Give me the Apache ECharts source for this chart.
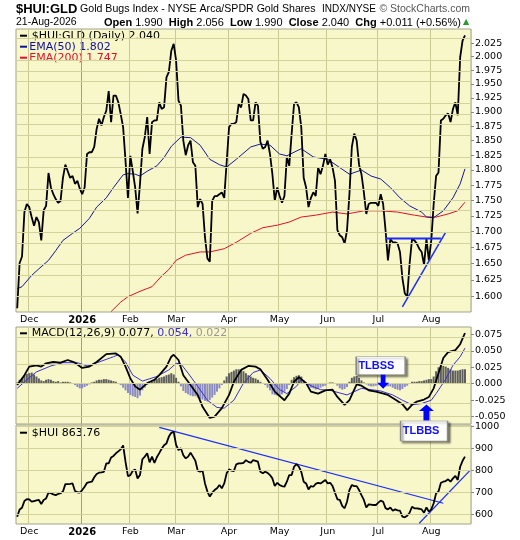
<!DOCTYPE html>
<html><head><meta charset="utf-8">
<script src="https://cdn.jsdelivr.net/npm/echarts@6/dist/echarts.min.js"></script>
<style>html,body{margin:0;padding:0;background:#fff}#c{width:520px;height:540px}</style>
</head><body><div id="c"></div>
<script>
// ---------- calendar (categories) ----------
const startDate = '2025-11-21', endDate = '2026-08-21';
const holidays = ['2025-11-27','2025-12-25','2026-01-01','2026-01-19','2026-02-16','2026-04-03','2026-05-25','2026-06-19','2026-07-03'];
const padDays = ['2026-08-24','2026-08-25'];
const monthNames = ['Jan','Feb','Mar','Apr','May','Jun','Jul','Aug','Sep','Oct','Nov','Dec'];

// ---------- $HUI:GLD daily close ----------
const price = [
1.583,1.651,1.661,1.731,1.744,1.739,1.723,1.709,1.723,1.715,
1.686,1.734,1.741,1.795,1.771,1.760,1.752,1.746,1.749,1.787,
1.809,1.798,1.787,1.790,1.777,1.782,1.769,1.760,1.771,1.827,
1.830,1.830,1.839,1.870,1.888,1.876,1.891,1.902,1.937,1.882,
1.929,1.929,1.917,1.896,1.873,1.815,1.754,1.824,1.798,1.771,
1.729,1.777,1.836,1.856,1.891,1.827,1.882,1.885,1.885,1.917,
1.905,1.908,1.962,1.972,2.011,2.024,1.993,1.920,1.911,1.850,
1.825,1.842,1.850,1.813,1.807,1.739,1.752,1.744,1.691,1.658,
1.653,1.749,1.757,1.757,1.760,1.763,1.754,1.813,1.873,1.879,
1.879,1.882,1.914,1.908,1.932,1.929,1.923,1.885,1.885,1.917,
1.911,1.848,1.836,1.839,1.850,1.827,1.793,1.749,1.771,1.757,
1.746,1.757,1.822,1.807,1.862,1.914,1.917,1.908,1.873,1.787,
1.771,1.739,1.754,1.763,1.757,1.804,1.793,1.807,1.827,1.809,
1.818,1.804,1.782,1.702,1.694,1.691,1.681,1.702,1.760,1.839,
1.862,1.850,1.809,1.793,1.763,1.728,1.744,1.746,1.746,1.746,
1.741,1.760,1.744,1.702,1.655,1.688,1.683,1.683,1.681,1.668,
1.628,1.605,1.600,1.650,1.688,1.686,1.681,1.673,1.668,1.648,
1.688,1.655,1.686,1.744,1.790,1.796,1.885,1.888,1.894,1.897,
1.882,1.905,1.917,1.894,1.999,2.030,2.040];

// EMA readings: [trading-day index, value]
const ema50 = [[0,1.612],[2,1.615],[6,1.632],[9,1.642],[13,1.655],[16,1.670],[19,1.686],[23,1.697],[26,1.705],[30,1.721],[33,1.739],[37,1.754],[40,1.771],[44,1.792],[46,1.794],[49,1.793],[51,1.790],[54,1.798],[58,1.807],[61,1.821],[64,1.840],[68,1.856],[72,1.855],[76,1.842],[80,1.818],[84,1.809],[87,1.805],[91,1.818],[97,1.839],[101,1.844],[105,1.842],[109,1.827],[112,1.824],[115,1.830],[118,1.836],[123,1.822],[129,1.818],[134,1.804],[138,1.793],[143,1.800],[147,1.790],[151,1.785],[155,1.771],[159,1.754],[163,1.741],[168,1.731],[170,1.723],[173,1.722],[177,1.733],[181,1.754],[184,1.777],[186,1.802]];
const ema200 = [[39,1.578],[43,1.592],[46,1.600],[51,1.608],[56,1.615],[60,1.631],[63,1.641],[66,1.655],[70,1.663],[76,1.668],[80,1.668],[86,1.673],[91,1.683],[97,1.697],[102,1.706],[108,1.710],[113,1.715],[118,1.723],[124,1.726],[131,1.731],[137,1.728],[144,1.733],[151,1.733],[158,1.731],[165,1.726],[170,1.723],[174,1.723],[179,1.728],[183,1.733],[186,1.747]];

// ---------- MACD(12,26,9) ----------
const macd = [[0,-0.002],[3,0.013],[5,0.026],[8,0.028],[10,0.026],[12,0.031],[15,0.033],[18,0.032],[21,0.036],[24,0.032],[27,0.024],[30,0.026],[33,0.033],[37,0.045],[41,0.046],[43,0.041],[45,0.026],[47,0.008],[49,-0.004],[51,-0.009],[54,0.001],[57,0.006],[59,0.013],[62,0.026],[64,0.041],[65,0.044],[67,0.036],[69,0.013],[72,-0.002],[75,-0.017],[77,-0.035],[80,-0.052],[82,-0.050],[85,-0.037],[88,-0.017],[90,0.003],[93,0.021],[96,0.027],[99,0.026],[101,0.022],[104,0.006],[107,-0.012],[111,-0.025],[113,-0.015],[115,0.003],[117,0.010],[120,0.001],[122,-0.012],[125,-0.015],[128,-0.010],[131,-0.009],[133,-0.020],[136,-0.032],[138,-0.025],[141,-0.001],[143,-0.003],[146,-0.010],[149,-0.012],[151,-0.014],[154,-0.017],[157,-0.024],[160,-0.031],[162,-0.040],[164,-0.032],[166,-0.027],[169,-0.024],[171,-0.020],[173,-0.007],[175,0.016],[177,0.039],[179,0.048],[182,0.051],[184,0.060],[186,0.077]];
const signal = [[0,-0.007],[4,0.006],[8,0.018],[14,0.027],[19,0.032],[25,0.032],[29,0.027],[34,0.033],[40,0.041],[42,0.044],[45,0.033],[48,0.013],[52,0.004],[58,0.011],[63,0.021],[66,0.031],[68,0.030],[71,0.016],[75,-0.004],[79,-0.025],[83,-0.036],[86,-0.037],[90,-0.025],[94,0.001],[98,0.017],[101,0.021],[105,0.008],[109,-0.009],[112,-0.015],[116,-0.004],[118,0.006],[122,-0.003],[126,-0.009],[130,-0.010],[134,-0.014],[137,-0.017],[140,-0.012],[143,-0.007],[147,-0.009],[151,-0.011],[156,-0.017],[160,-0.025],[164,-0.032],[168,-0.030],[172,-0.025],[174,-0.015],[178,0.007],[181,0.028],[184,0.041],[186,0.054]];
const hist = [
0.002,0.006,0.009,0.013,0.015,0.016,0.017,0.014,0.011,0.008,
0.005,0.004,0.006,0.007,0.006,0.004,0.003,0.004,0.002,0.003,
0.003,0.003,0.002,0.000,-0.002,-0.005,-0.007,-0.007,-0.005,-0.003,
-0.001,0.002,0.003,0.005,0.006,0.006,0.007,0.007,0.006,0.005,
0.004,0.003,0.001,-0.002,-0.006,-0.010,-0.014,-0.017,-0.019,-0.020,
-0.022,-0.018,-0.010,-0.006,-0.002,0.001,0.003,0.006,0.007,0.009,
0.010,0.011,0.013,0.014,0.016,0.014,0.009,0.003,-0.004,-0.011,
-0.014,-0.016,-0.018,-0.019,-0.019,-0.021,-0.023,-0.024,-0.026,-0.027,
-0.025,-0.021,-0.017,-0.012,-0.007,-0.002,0.005,0.011,0.016,0.018,
0.020,0.022,0.022,0.021,0.019,0.016,0.013,0.011,0.009,0.008,
0.006,0.003,0.000,-0.002,-0.006,-0.010,-0.016,-0.017,-0.018,-0.019,
-0.016,-0.012,-0.008,-0.002,0.006,0.010,0.012,0.013,0.011,0.005,
0.001,-0.004,-0.006,-0.007,-0.009,-0.008,-0.006,-0.004,-0.003,0.000,
0.002,0.002,0.000,-0.003,-0.007,-0.009,-0.008,-0.005,0.003,0.009,
0.011,0.012,0.009,0.005,0.002,-0.001,-0.003,-0.004,-0.004,-0.003,
-0.002,-0.002,-0.002,-0.004,-0.004,-0.004,-0.006,-0.008,-0.009,-0.010,
-0.008,-0.005,-0.003,0.001,0.003,0.003,0.003,0.004,0.004,0.005,
0.006,0.007,0.007,0.011,0.019,0.025,0.027,0.027,0.026,0.024,
0.022,0.020,0.020,0.020,0.021,0.022,0.022];

// ---------- $HUI close ----------
const hui = [
591,624,632,662,671,670,659,662,665,667,
649,667,674,700,698,692,689,694,698,705,
739,739,740,742,708,702,700,712,727,745,
748,750,770,785,791,792,795,833,833,860,
867,879,888,897,915,840,775,780,800,805,
765,780,852,864,879,838,864,835,861,880,
900,916,924,955,972,977,917,894,902,870,
856,864,882,864,845,800,795,800,742,705,
682,700,712,720,735,720,742,788,806,800,
798,829,833,833,836,848,840,836,848,845,
841,795,788,795,790,780,765,730,745,735,
730,727,750,780,780,818,830,818,795,750,
742,715,730,727,740,745,742,750,758,742,
745,730,700,670,667,640,629,659,712,735,
730,730,712,689,667,633,647,646,644,644,
655,664,659,630,624,633,618,624,620,618,
591,588,595,609,636,629,629,627,624,609,
633,614,624,652,697,705,745,750,753,761,
750,765,776,758,818,845,864];
const huiLastText = '863.76';

// ---------- trendline annotations [index, value] ----------
const priceNeckline = [[153,1.689],[176,1.689]];
const priceUpTrend = [[160,1.585],[178,1.699]];
const huiDownTrend = [[59,997],[177,652]];
const huiUpTrend = [[167,561],[188,800]];
const tlbssBox = [151,0.0273], tlbssArrow = [152,0.0032], tlbbsArrow = [170,-0.0435], tlbbsBox = [169,980.5];

// ---------- axis ticks ----------
const mainTicks = [1.600,1.625,1.650,1.675,1.700,1.725,1.750,1.775,1.800,1.825,1.850,1.875,1.900,1.925,1.950,1.975,2.000,2.025];
const mainGridExtra = [2.050];
const mainRange = [1.5774, 2.0522];
const macdTicks = [-0.050,-0.025,0.000,0.025,0.050,0.075];
const macdRange = [-0.0611, 0.0861];
const huiTicks = [600,700,800,900,1000];
const huiRange = [557.7, 1007.7];

// ---------- build ----------
function tradingDays(){
  const out=[]; let d=new Date(startDate+'T00:00:00Z'); const end=new Date(endDate+'T00:00:00Z');
  while(d<=end){ const w=d.getUTCDay(); const s=d.toISOString().slice(0,10);
    if(w!==0&&w!==6&&holidays.indexOf(s)<0) out.push(s); d=new Date(d.getTime()+86400000);} return out;
}
const days = tradingDays();
const cats = days.concat(padDays);
const isMonthStart = (i)=> i>0 && i<days.length && cats[i].slice(5,7)!==cats[i-1].slice(5,7);
const LN = Math.log;
const AXF = 'DejaVu Sans';
const AR = 'Liberation Sans';
const GRIDC = '#d3d29d';
const lineColors = ['#c9c994','#a3a36e','#c9c994','#c9c994','#c9c994','#c9c994','#c9c994','#c9c994','#c9c994','#c9c994'];

function xAx(g, show){
  return {type:'category', gridIndex:g, data:cats, boundaryGap:true,
    axisLine:{show:false}, axisTick:{show:false},
    axisLabel:{show:show, interval:(i)=>isMonthStart(i), margin:3, fontFamily:AXF, fontSize:9.5, color:'#000',
      formatter:(v)=>{const m=+v.slice(5,7); return m===1?'{y|'+v.slice(0,4)+'}':monthNames[m-1];},
      rich:{y:{fontWeight:'bold', fontFamily:AXF, fontSize:10, color:'#000'}}},
    splitLine:{show:true, interval:(i)=>isMonthStart(i), lineStyle:{color:lineColors, width:1}}};
}
function yAx(g, range, ticks, fmt, toAxis){
  const tv = ticks.map(toAxis);
  return {type:'value', gridIndex:g, position:'right', min:toAxis(range[0]), max:toAxis(range[1]),
    axisLine:{show:false},
    axisTick:{show:true, length:3, customValues:tv, lineStyle:{color:'#888'}},
    axisLabel:{customValues:tv, formatter:fmt, margin:4, fontFamily:AXF, fontSize:9.5, color:'#000'},
    splitLine:{show:false}};
}
// horizontal grid lines at the tick values
function hGrid(g, vals){
  return {type:'line', xAxisIndex:g, yAxisIndex:g, data:[], silent:true, z:1,
    markLine:{symbol:'none', silent:true, animation:false, label:{show:false},
      lineStyle:{color:GRIDC, width:1, type:'solid'}, emphasis:{disabled:true},
      data:vals.map(v=>({yAxis:v}))}};
}
const gridBase = {show:true, backgroundColor:'#f8f7c9', borderColor:'#a3a38c', borderWidth:1, containLabel:false, outerBoundsMode:'none'};
const idx = (p)=>[p[0], p[1]];
const arrowPath = 'path://M5,0 L10,5 L7,5 L7,12 L3,12 L3,5 L0,5 Z';
const BLUE = '#1a2cff';

function txt(x,y,text,opt){ return {type:'text', x:x, y:y, silent:true, style:Object.assign({text:text, fill:'#000', fontFamily:AXF, fontSize:11, verticalAlign:'middle', align:'left'}, opt||{})}; }
function dash(x,y,color){ return {type:'rect', silent:true, shape:{x:x, y:y-1, width:7, height:2}, style:{fill:color}}; }

const last = (a)=>a[a.length-1];
const graphics = [
  txt(16, 9, '$HUI:GLD', {fontFamily:AR, fontWeight:'bold', fontSize:13}),
  txt(80, 9, 'Gold Bugs Index - NYSE Arca/SPDR Gold Shares', {fontFamily:AR, fontSize:10.6}),
  txt(322, 9.5, 'INDX/NYSE', {fontFamily:AR, fontSize:10}),
  txt(470, 9, '\u00A9 StockCharts.com', {fontFamily:AR, fontSize:10.5, fill:'#555', align:'right'}),
  txt(16, 22.5, '21-Aug-2026', {fontFamily:AR, fontSize:10.5}),
  txt(104, 22.5, '{b|Open} 1.990  {b|High} 2.056  {b|Low} 1.990  {b|Close} '+last(price).toFixed(3)+'  {b|Chg} +0.011 (+0.56%)',
     {fontFamily:AR, fontSize:11, rich:{b:{fontWeight:'bold', fontFamily:AR, fontSize:11}}}),
  txt(463, 22, '\u25B2', {fontSize:8, fill:'#2a9a2a'}),
  dash(20, 35.7, '#000'), txt(31.7, 35.7, '$HUI:GLD (Daily) '+last(price).toFixed(3)),
  dash(20, 46.7, '#10109a'), txt(29.3, 46.7, 'EMA(50) '+last(ema50)[1].toFixed(3), {fill:'#10109a'}),
  dash(20, 57.7, '#e0102c'), txt(29.3, 57.7, 'EMA(200) '+last(ema200)[1].toFixed(3), {fill:'#e0102c'}),
  dash(20, 333.3, '#000'), txt(31.7, 333.3, 'MACD(12,26,9) '+last(macd)[1].toFixed(3)+', {s|'+last(signal)[1].toFixed(3)+',} {h|'+last(hist).toFixed(3)+'}',
     {rich:{s:{fill:'#3b2fd6', color:'#3b2fd6', fontFamily:AXF, fontSize:11}, h:{fill:'#999', color:'#999', fontFamily:AXF, fontSize:11}}}),
  dash(20, 432.7, '#000'), txt(31.7, 432.7, '$HUI '+huiLastText)
];

const boxStyle = {color:'#fff', borderColor:'#8a8a8a', borderWidth:1, shadowColor:'rgba(0,0,0,0.45)', shadowBlur:2, shadowOffsetX:2, shadowOffsetY:2};
const boxLabel = (t)=>({show:true, formatter:t, position:'insideLeft', distance:3, color:'#1010ff', fontWeight:'bold', fontSize:11, fontFamily:AR});

const option = {
  animation:false,
  backgroundColor:'#ffffff',
  grid:[
    Object.assign({left:16, top:29, width:455, height:283}, gridBase),
    Object.assign({left:16, top:327, width:455, height:97}, gridBase),
    Object.assign({left:16, top:425, width:455, height:99}, gridBase)
  ],
  xAxis:[xAx(0,true), xAx(1,false), xAx(2,true)],
  yAxis:[
    yAx(0, mainRange, mainTicks, (v)=>Math.exp(v).toFixed(3), LN),
    yAx(1, macdRange, macdTicks, (v)=>v.toFixed(3), (v)=>v),
    yAx(2, huiRange, huiTicks, (v)=>String(Math.round(v)), (v)=>v)
  ],
  graphic: graphics,
  series:[
    hGrid(0, mainTicks.concat(mainGridExtra).map(LN)),
    hGrid(1, macdTicks),
    hGrid(2, huiTicks),
    {type:'line', xAxisIndex:0, yAxisIndex:0, data:ema200.map(p=>[p[0],LN(p[1])]), showSymbol:false, lineStyle:{color:'#e0102c', width:1}, z:2},
    {type:'line', xAxisIndex:0, yAxisIndex:0, data:ema50.map(p=>[p[0],LN(p[1])]), showSymbol:false, lineStyle:{color:'#1616a0', width:1}, z:2},
    {type:'line', xAxisIndex:0, yAxisIndex:0, data:price.map((v,i)=>[i,LN(v)]), showSymbol:false, lineStyle:{color:'#000', width:1.8}, z:3},
    {type:'line', xAxisIndex:0, yAxisIndex:0, data:priceNeckline.map(p=>[p[0],LN(p[1])]), showSymbol:false, lineStyle:{color:BLUE, width:2}, z:4},
    {type:'line', xAxisIndex:0, yAxisIndex:0, data:priceUpTrend.map(p=>[p[0],LN(p[1])]), showSymbol:false, lineStyle:{color:BLUE, width:1.5}, z:4},

    {type:'bar', xAxisIndex:1, yAxisIndex:1, data:hist.map((v,i)=>[i,v]), barWidth:2,
      itemStyle:{color:(p)=>p.value[1]>=0?'#5e5e5e':'#8b8bc6'}, z:2},
    {type:'line', xAxisIndex:1, yAxisIndex:1, data:signal.map(idx), showSymbol:false, lineStyle:{color:'#3b2fd6', width:1}, z:3},
    {type:'line', xAxisIndex:1, yAxisIndex:1, data:macd.map(idx), showSymbol:false, lineStyle:{color:'#000', width:1.8}, z:4,
      markPoint:{silent:true, animation:false, data:[
        {coord:tlbssBox, symbol:'rect', symbolSize:[49,18], itemStyle:boxStyle, label:boxLabel('TLBSS')},
        {coord:tlbssArrow, symbol:arrowPath, symbolRotate:180, symbolSize:[12,14], itemStyle:{color:'#0000ff'}, label:{show:false}},
        {coord:tlbbsArrow, symbol:arrowPath, symbolSize:[15,16], itemStyle:{color:'#0000ff'}, label:{show:false}}
      ]}},

    {type:'line', xAxisIndex:2, yAxisIndex:2, data:huiDownTrend.map(idx), showSymbol:false, lineStyle:{color:BLUE, width:1.2}, z:2},
    {type:'line', xAxisIndex:2, yAxisIndex:2, data:huiUpTrend.map(idx), showSymbol:false, lineStyle:{color:BLUE, width:1.2}, z:2},
    {type:'line', xAxisIndex:2, yAxisIndex:2, data:hui.map((v,i)=>[i,v]), showSymbol:false, lineStyle:{color:'#000', width:1.8}, z:3,
      markPoint:{silent:true, animation:false, data:[
        {coord:tlbbsBox, symbol:'rect', symbolSize:[47,20], itemStyle:boxStyle, label:boxLabel('TLBBS')}
      ]}}
  ]
};
const chart = echarts.init(document.getElementById('c'), null, {renderer:'canvas', width:520, height:540});
chart.setOption(option);
</script>
</body></html>
